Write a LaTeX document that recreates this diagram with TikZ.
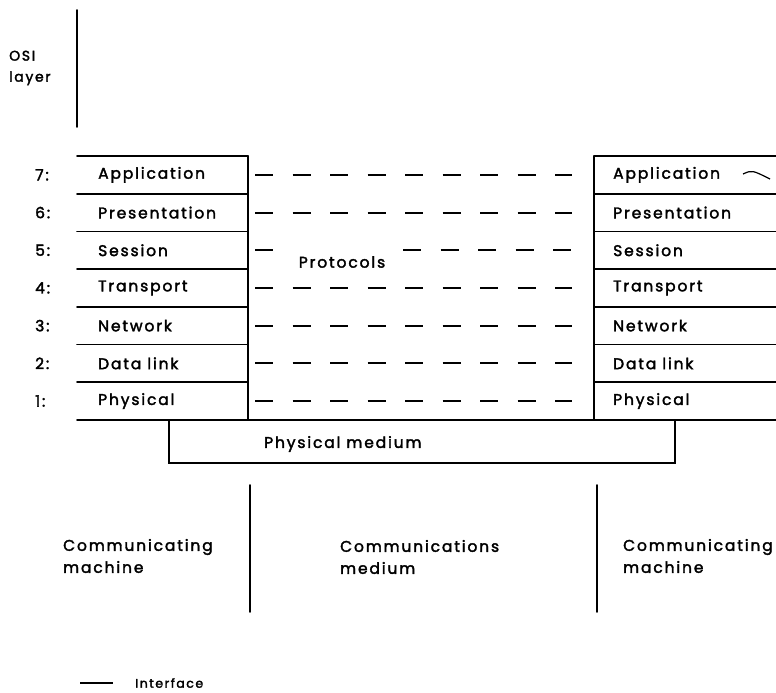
\documentclass[tikz,border=0pt]{standalone}
\usepackage{fontspec}
\setmainfont{Poppins}[LetterSpace=12,FakeBold=2.2]
\begin{document}
\begin{tikzpicture}[x=1pt,y=-1pt,
  rule/.style={line width=1.8pt,line cap=round},
  protline/.style={line width=2pt,dash pattern=on 18pt off 19.5pt},
  lbl/.style={anchor=west,inner sep=0pt,font=\fontsize{15.5}{18}\selectfont},
  numlbl/.style={anchor=west,inner sep=0pt,font=\fontsize{15.5}{18}\selectfont},
  caption/.style={anchor=west,inner sep=0pt,align=left,font=\fontsize{15.5}{22}\selectfont}]
\useasboundingbox (0,0) rectangle (776,693);
\def\ytop{156}
\def\rh{37.7}
% OSI layer heading
\node[caption,font=\fontsize{14}{21}\selectfont] (osi) at (9,68) {OSI\\layer};
\draw[rule] (77,10) coordinate (osiA) -- (77,127) coordinate (osiB);
% layer names, top to bottom
\foreach \n/\name [count=\k from 0] in {7/Application,6/Presentation,5/Session,4/Transport,3/Network,2/Data link,1/Physical}{
  \pgfmathsetmacro{\yc}{\ytop+(\k+0.5)*\rh}
  \node[numlbl] (N\n) at (35,\yc) {\n:};
  \node[lbl] (L\n) at (98,\yc) {\name};
  \node[lbl] (R\n) at (613,\yc) {\name};
  \coordinate (pa\n) at (255,\yc);
  \coordinate (pb\n) at (572,\yc);
}
% row rules of both stacks
\foreach \k in {0,...,6}{
  \pgfmathsetmacro{\yr}{\ytop+\k*\rh}
  \draw[rule] (77,\yr) -- (248,\yr);
  \draw[rule] (594,\yr) -- (776,\yr);
}
\coordinate (lt) at (248,\ytop);
\coordinate (rt) at (594,\ytop);
\coordinate (lb) at (248,420);
\coordinate (rb) at (594,420);
\draw[rule] (lt) -- (lb);
\draw[rule] (rt) -- (rb);
\draw[rule] (77,420) coordinate (baseL) -- (776,420) coordinate (baseR);
% peer protocols
\foreach \n in {7,6,4,3,2,1}{
  \draw[protline] (pa\n) -- (pb\n);
}
\pgfmathsetmacro{\ys}{\ytop+2.5*\rh}
\coordinate (ps) at (403,\ys);
\draw[protline] (pa5) -- ++(18,0);
\draw[protline] (ps) -- (pb5);
\node[lbl,anchor=center] (prot) at (342,262) {Protocols};
% physical medium
\draw[rule] (169,420) coordinate (pmA) -- (169,463) -- (675,463) -- (675,420) coordinate (pmB);
\node[lbl] (pm) at (264,444) {Physical medium};
% lower partitions
\draw[rule] (250,485) coordinate (d1a) -- (250,612) coordinate (d1b);
\draw[rule] (597,485) coordinate (d2a) -- (597,612) coordinate (d2b);
\node[caption] (cm1) at (63,556) {Communicating\\machine};
\node[caption] (cmed) at (340,557) {Communications\\medium};
\node[caption] (cm2) at (623,556) {Communicating\\machine};
% stray mark
\draw[line width=1.2pt] (743,174) .. controls (752,170) .. (770,179);
% legend
\draw[line width=1.4pt] (80,683) coordinate (ifa) -- (113,683) coordinate (ifb);
\node[anchor=west,inner sep=0pt,font=\fontsize{12.5}{14}\selectfont] (iface) at (135,683) {Interface};
\end{tikzpicture}
\end{document}
